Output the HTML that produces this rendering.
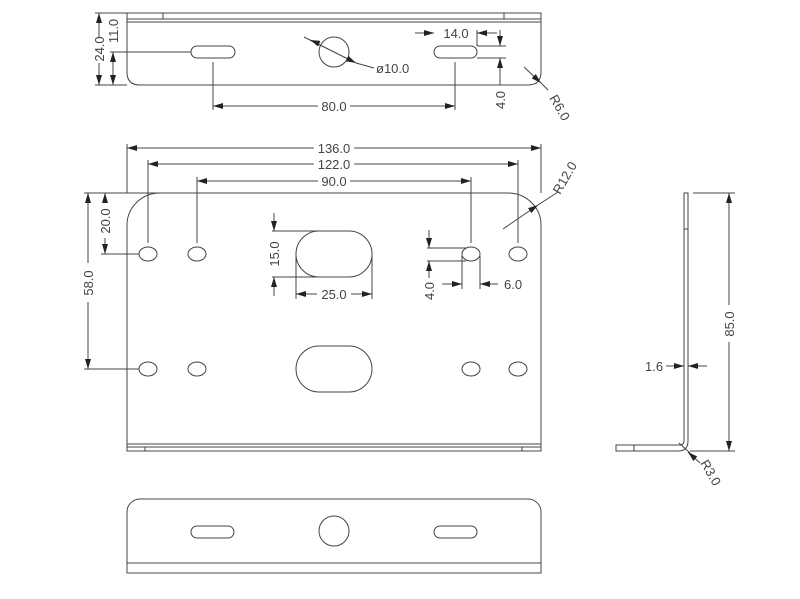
<!DOCTYPE html>
<html><head><style>
html,body{margin:0;padding:0;background:#fff;}
svg{display:block;}
text{font-family:"Liberation Sans Narrow","Liberation Sans",sans-serif;font-size:13px;fill:#444;}
</style></head><body>
<svg width="800" height="599" viewBox="0 0 800 599" xmlns="http://www.w3.org/2000/svg">
<defs>
<marker id="a" viewBox="0 0 10 6" refX="10" refY="3" markerWidth="10" markerHeight="6" markerUnits="userSpaceOnUse" orient="auto-start-reverse"><path d="M0,0 L10,3 L0,6 Z" fill="#222"/></marker>
</defs>
<g fill="none" stroke="#444" stroke-width="1">
<path d="M127,13 H541 V72 Q541,85 528,85 H140 Q127,85 127,72 Z"/>
<line x1="127" y1="19" x2="541" y2="19"/>
<line x1="127" y1="22" x2="541" y2="22"/>
<line x1="163" y1="13" x2="163" y2="19"/>
<line x1="504" y1="13" x2="504" y2="19"/>
<rect x="191" y="46" width="44" height="12" rx="6"/>
<rect x="434" y="46" width="43" height="12" rx="6"/>
<circle cx="334" cy="52" r="15"/>
<line x1="95" y1="13" x2="127" y2="13"/>
<line x1="95" y1="85" x2="127" y2="85"/>
<line x1="110" y1="52" x2="191" y2="52"/>
<line x1="99" y1="13" x2="99" y2="38" marker-start="url(#a)"/>
<line x1="99" y1="63" x2="99" y2="85" marker-end="url(#a)"/>
<line x1="113" y1="52" x2="113" y2="85" marker-start="url(#a)" marker-end="url(#a)"/>
<line x1="213" y1="62" x2="213" y2="110"/>
<line x1="455" y1="62" x2="455" y2="110"/>
<line x1="213" y1="106" x2="318" y2="106" marker-start="url(#a)"/>
<line x1="350" y1="106" x2="455" y2="106" marker-end="url(#a)"/>
<line x1="415" y1="33" x2="434" y2="33" marker-end="url(#a)"/>
<line x1="497" y1="33" x2="477" y2="33" marker-end="url(#a)"/>
<line x1="477" y1="30" x2="477" y2="46"/>
<line x1="477" y1="46" x2="506" y2="46"/>
<line x1="477" y1="58" x2="506" y2="58"/>
<line x1="500" y1="30" x2="500" y2="46" marker-end="url(#a)"/>
<line x1="500" y1="85" x2="500" y2="58" marker-end="url(#a)"/>
<line x1="524" y1="67" x2="541" y2="83" marker-end="url(#a)"/>
<line x1="541" y1="83" x2="548" y2="90"/>
<line x1="304" y1="37" x2="356" y2="63" marker-end="url(#a)"/>
<line x1="315" y1="42" x2="310" y2="40" marker-end="url(#a)"/>
<line x1="356" y1="63" x2="374" y2="68"/>
<path d="M127,451 V225 A33,32 0 0 1 160,193 H508 A33,32 0 0 1 541,225 V451 Z"/>
<line x1="127" y1="444" x2="541" y2="444"/>
<line x1="127" y1="447" x2="541" y2="447"/>
<line x1="145" y1="447" x2="145" y2="451"/>
<line x1="522" y1="447" x2="522" y2="451"/>
<ellipse cx="148" cy="254" rx="9" ry="7"/>
<ellipse cx="197" cy="254" rx="9" ry="7"/>
<ellipse cx="471" cy="254" rx="9" ry="7"/>
<ellipse cx="518" cy="254" rx="9" ry="7"/>
<ellipse cx="148" cy="369" rx="9" ry="7"/>
<ellipse cx="197" cy="369" rx="9" ry="7"/>
<ellipse cx="471" cy="369" rx="9" ry="7"/>
<ellipse cx="518" cy="369" rx="9" ry="7"/>
<rect x="296" y="231" width="76" height="46" rx="23"/>
<rect x="296" y="346" width="76" height="46" rx="23"/>
<line x1="127" y1="144" x2="127" y2="193"/>
<line x1="541" y1="144" x2="541" y2="193"/>
<line x1="127" y1="148" x2="314" y2="148" marker-start="url(#a)"/>
<line x1="354" y1="148" x2="541" y2="148" marker-end="url(#a)"/>
<line x1="148" y1="160" x2="148" y2="243"/>
<line x1="518" y1="160" x2="518" y2="243"/>
<line x1="148" y1="164" x2="314" y2="164" marker-start="url(#a)"/>
<line x1="354" y1="164" x2="518" y2="164" marker-end="url(#a)"/>
<line x1="197" y1="177" x2="197" y2="243"/>
<line x1="471" y1="177" x2="471" y2="243"/>
<line x1="197" y1="181" x2="318" y2="181" marker-start="url(#a)"/>
<line x1="350" y1="181" x2="471" y2="181" marker-end="url(#a)"/>
<line x1="84" y1="193" x2="160" y2="193"/>
<line x1="84" y1="369" x2="139" y2="369"/>
<line x1="101" y1="254" x2="139" y2="254"/>
<line x1="88" y1="193" x2="88" y2="263" marker-start="url(#a)"/>
<line x1="88" y1="302" x2="88" y2="369" marker-end="url(#a)"/>
<line x1="105" y1="193" x2="105" y2="203" marker-start="url(#a)"/>
<line x1="105" y1="238" x2="105" y2="254" marker-end="url(#a)"/>
<line x1="272" y1="231" x2="334" y2="231"/>
<line x1="272" y1="277" x2="334" y2="277"/>
<line x1="274" y1="213" x2="274" y2="231" marker-end="url(#a)"/>
<line x1="274" y1="296" x2="274" y2="277" marker-end="url(#a)"/>
<line x1="296" y1="254" x2="296" y2="299"/>
<line x1="372" y1="254" x2="372" y2="299"/>
<line x1="296" y1="294" x2="317" y2="294" marker-start="url(#a)"/>
<line x1="351" y1="294" x2="372" y2="294" marker-end="url(#a)"/>
<line x1="427" y1="248" x2="466" y2="248"/>
<line x1="427" y1="261" x2="466" y2="261"/>
<line x1="429" y1="230" x2="429" y2="248" marker-end="url(#a)"/>
<line x1="429" y1="278" x2="429" y2="261" marker-end="url(#a)"/>
<line x1="462" y1="256" x2="462" y2="289"/>
<line x1="480" y1="256" x2="480" y2="289"/>
<line x1="442" y1="284" x2="462" y2="284" marker-end="url(#a)"/>
<line x1="498" y1="284" x2="480" y2="284" marker-end="url(#a)"/>
<line x1="503" y1="229" x2="538" y2="205" marker-end="url(#a)"/>
<line x1="538" y1="205" x2="558" y2="192"/>
<path d="M684,193 H688 V441 Q688,451 678,451 H616 V445 H680 Q684,445 684,441 Z"/>
<line x1="684" y1="229" x2="688" y2="229"/>
<line x1="634" y1="445" x2="634" y2="451"/>
<line x1="693" y1="193" x2="735" y2="193"/>
<line x1="690" y1="451" x2="735" y2="451"/>
<line x1="729" y1="193" x2="729" y2="305" marker-start="url(#a)"/>
<line x1="729" y1="342" x2="729" y2="451" marker-end="url(#a)"/>
<line x1="666" y1="366" x2="684" y2="366" marker-end="url(#a)"/>
<line x1="707" y1="366" x2="688" y2="366" marker-end="url(#a)"/>
<line x1="679" y1="443" x2="690" y2="453"/>
<line x1="700" y1="463" x2="688" y2="452" marker-end="url(#a)"/>
<path d="M127,573 V512 A13,13 0 0 1 140,499 H528 A13,13 0 0 1 541,512 V573 Z"/>
<line x1="127" y1="563" x2="541" y2="563"/>
<rect x="191" y="526" width="43" height="12" rx="6"/>
<rect x="434" y="526" width="43" height="12" rx="6"/>
<circle cx="334" cy="531" r="15"/>
</g>
<text x="334" y="153" text-anchor="middle">136.0</text>
<text x="334" y="169" text-anchor="middle">122.0</text>
<text x="334" y="186" text-anchor="middle">90.0</text>
<text x="334" y="111" text-anchor="middle">80.0</text>
<text x="456" y="38" text-anchor="middle">14.0</text>
<text x="376" y="73">ø10.0</text>
<text x="334" y="299" text-anchor="middle">25.0</text>
<text x="504" y="289">6.0</text>
<text x="645" y="371">1.6</text>
<text transform="translate(104,49) rotate(-90)" text-anchor="middle">24.0</text>
<text transform="translate(118,31) rotate(-90)" text-anchor="middle">11.0</text>
<text transform="translate(505,100) rotate(-90)" text-anchor="middle">4.0</text>
<text transform="translate(549,98) rotate(60)">R6.0</text>
<text transform="translate(93,283) rotate(-90)" text-anchor="middle">58.0</text>
<text transform="translate(110,221) rotate(-90)" text-anchor="middle">20.0</text>
<text transform="translate(279,254) rotate(-90)" text-anchor="middle">15.0</text>
<text transform="translate(434,291) rotate(-90)" text-anchor="middle">4.0</text>
<text transform="translate(560,195) rotate(-60)">R12.0</text>
<text transform="translate(734,324) rotate(-90)" text-anchor="middle">85.0</text>
<text transform="translate(700,463) rotate(60)">R3.0</text>
</svg>
</body></html>
